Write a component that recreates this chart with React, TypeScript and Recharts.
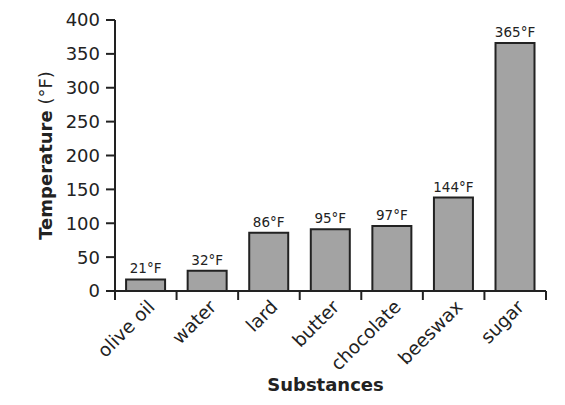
import React from 'react';
import { BarChart, Bar, XAxis, YAxis, LabelList, Label } from 'recharts';

const substances = ['olive oil', 'water', 'lard', 'butter', 'chocolate', 'beeswax', 'sugar'];
// bar heights as drawn (they sit a little off the printed labels)
const barHeights = [17, 30, 86, 91, 96, 138, 366];
const valueLabels = ['21°F', '32°F', '86°F', '95°F', '97°F', '144°F', '365°F'];
const yTicks = [0, 50, 100, 150, 200, 250, 300, 350, 400];

const data = substances.map((name, i) => ({
  name,
  temp: barHeights[i],
  label: valueLabels[i],
}));

const FONT = '"DejaVu Sans", Verdana, sans-serif';
const INK = '#222';
const PLOT_W = 431;
const HALF_BAND = PLOT_W / substances.length / 2;

function CategoryTick(props: any) {
  const { x, y, payload, index } = props;
  const half = payload && payload.offset ? payload.offset : HALF_BAND;
  const last = index === substances.length - 1;
  return (
    <g>
      <line x1={x - half} x2={x - half} y1={y} y2={y + 9} stroke={INK} strokeWidth={2} />
      {last && <line x1={x + half} x2={x + half} y1={y} y2={y + 9} stroke={INK} strokeWidth={2} />}
      <text
        transform={`translate(${x + 10},${y + 17}) rotate(-45)`}
        textAnchor="end"
        fontFamily={FONT}
        fontSize={18.5}
        fill={INK}
      >
        {payload.value}
      </text>
    </g>
  );
}

function YTitle(props: any) {
  const { viewBox } = props;
  const cy = viewBox.y + viewBox.height / 2;
  const cx = 52;
  return (
    <text
      transform={`translate(${cx},${cy}) rotate(-90)`}
      textAnchor="middle"
      fontFamily={FONT}
      fontSize={18}
      fill={INK}
    >
      <tspan fontWeight="bold">Temperature</tspan>
      <tspan> (°F)</tspan>
    </text>
  );
}

export default function App() {
  return (
    <div style={{ width: 565, height: 405, background: '#fff' }}>
      <style>{'body{margin:0;}'}</style>
      <BarChart
        width={565}
        height={405}
        data={data}
        margin={{ top: 20, right: 19, left: 0, bottom: 0 }}
        barCategoryGap="18%"
      >
        <XAxis
          dataKey="name"
          height={114}
          axisLine={{ stroke: INK, strokeWidth: 2 }}
          tickLine={false}
          tickSize={0}
          tickMargin={0}
          interval={0}
          tick={<CategoryTick />}
        >
          <Label
            value="Substances"
            position="insideBottom"
            offset={14}
            dx={-5}
            fontFamily={FONT}
            fontSize={18}
            fontWeight="bold"
            fill={INK}
          />
        </XAxis>
        <YAxis
          width={115}
          domain={[0, 400]}
          ticks={yTicks}
          interval={0}
          axisLine={{ stroke: INK, strokeWidth: 2 }}
          tickLine={{ stroke: INK, strokeWidth: 2 }}
          tickSize={9}
          tickMargin={6}
          tick={{ fontFamily: FONT, fontSize: 18, fill: INK }}
        >
          <Label content={<YTitle />} />
        </YAxis>
        <Bar
          dataKey="temp"
          fill="#a3a3a3"
          stroke={INK}
          strokeWidth={2}
          isAnimationActive={false}
        >
          <LabelList
            dataKey="label"
            position="top"
            offset={6}
            fontFamily={FONT}
            fontSize={13.5}
            fill={INK}
          />
        </Bar>
      </BarChart>
    </div>
  );
}
